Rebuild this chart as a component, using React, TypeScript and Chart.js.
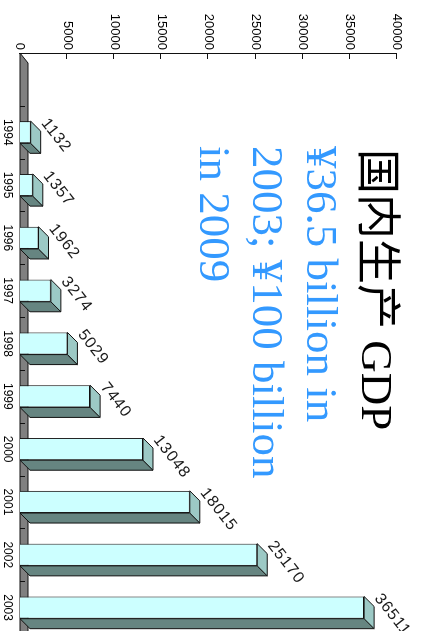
import React, { useEffect, useRef } from "react";
import { Chart, registerables } from "chart.js";

Chart.register(...registerables);

const categories = ["", "1994", "1995", "1996", "1997", "1998", "1999", "2000", "2001", "2002", "2003"];
const gdpValues = [null, 1132, 1357, 1962, 3274, 5029, 7440, 13048, 18015, 25170, 36511];
const axisMin = 0;
const axisMax = 40000;
const axisStep = 5000;
const titleText = "国内生产 GDP";
const subtitleLines = ["¥36.5 billion in", "2003; ¥100 billion", "in 2009"];

const DEPTH = 10;
const FRONT = "#ccffff";
const TOPFACE = "#9cc9c5";
const SIDEFACE = "#668581";
const FLOOR = "#808080";
const EDGE = "#111111";

const W = 640;
const H = 441;

const floorPlugin = {
  id: "floor3d",
  beforeDatasetsDraw(chart: any) {
    const { ctx, chartArea } = chart;
    const x = chart.scales.x;
    const base = chart.scales.y.getPixelForValue(0);
    const l = chartArea.left;
    const r = chartArea.right + 20;
    ctx.save();
    ctx.fillStyle = FLOOR;
    ctx.strokeStyle = EDGE;
    ctx.lineWidth = 1;
    ctx.beginPath();
    ctx.moveTo(l, base);
    ctx.lineTo(l + DEPTH, base - 8);
    ctx.lineTo(r + DEPTH, base - 8);
    ctx.lineTo(r, base);
    ctx.closePath();
    ctx.fill();
    ctx.stroke();
    const n = categories.length;
    const step = (chartArea.right - chartArea.left) / n;
    ctx.beginPath();
    for (let i = 1; i <= n; i++) {
      const px = Math.round(x.left + i * step) + 0.5;
      ctx.moveTo(px, base);
      ctx.lineTo(px, base - 5);
    }
    ctx.stroke();
    const y = chart.scales.y;
    ctx.beginPath();
    for (let v = axisMin + axisStep; v <= axisMax; v += axisStep) {
      const py = Math.round(y.getPixelForValue(v)) + 0.5;
      ctx.moveTo(chartArea.left, py);
      ctx.lineTo(chartArea.left + 6, py);
    }
    ctx.stroke();
    ctx.restore();
  },
};

const barPlugin = {
  id: "bars3d",
  afterDatasetsDraw(chart: any) {
    const { ctx } = chart;
    const meta = chart.getDatasetMeta(0);
    const d = DEPTH;
    ctx.save();
    ctx.lineWidth = 1;
    ctx.strokeStyle = EDGE;
    meta.data.forEach((bar: any, i: number) => {
      const v = gdpValues[i];
      if (v == null) return;
      const { x, y, base, width } = bar.getProps(["x", "y", "base", "width"], true);
      const xl = x - width / 2;
      const xr = x + width / 2;
      ctx.fillStyle = SIDEFACE;
      ctx.beginPath();
      ctx.moveTo(xr, y);
      ctx.lineTo(xr + d, y - d);
      ctx.lineTo(xr + d, base - d);
      ctx.lineTo(xr, base);
      ctx.closePath();
      ctx.fill();
      ctx.stroke();
      ctx.fillStyle = TOPFACE;
      ctx.beginPath();
      ctx.moveTo(xl, y);
      ctx.lineTo(xl + d, y - d);
      ctx.lineTo(xr + d, y - d);
      ctx.lineTo(xr, y);
      ctx.closePath();
      ctx.fill();
      ctx.stroke();
      ctx.save();
      ctx.translate(xl + 2, y - d);
      ctx.rotate((-38 * Math.PI) / 180);
      ctx.fillStyle = "#1a1a1a";
      ctx.font = '16px "Liberation Sans", Arial, sans-serif';
      (ctx as any).letterSpacing = "1px";
      ctx.textAlign = "left";
      ctx.textBaseline = "alphabetic";
      ctx.fillText(String(v), 0, 0);
      ctx.restore();
    });
    ctx.restore();
  },
};

const titlePlugin = {
  id: "titleText",
  afterDraw(chart: any) {
    const { ctx } = chart;
    ctx.save();
    ctx.textAlign = "left";
    ctx.textBaseline = "alphabetic";
    ctx.fillStyle = "#000000";
    ctx.font = '45px "Liberation Serif", "Noto Sans CJK SC", serif';
    ctx.fillText(titleText, 149, 79);
    ctx.fillStyle = "#3399ff";
    ctx.font = '45px "Liberation Serif", "Times New Roman", serif';
    subtitleLines.forEach((line, i) => {
      ctx.fillText(line, 146, 134 + i * 53.5);
    });
    ctx.restore();
  },
};

export default function App() {
  const ref = useRef<HTMLCanvasElement | null>(null);
  useEffect(() => {
    if (!ref.current) return;
    const chart = new Chart(ref.current, {
      type: "bar",
      data: {
        labels: categories,
        datasets: [
          {
            data: gdpValues as any,
            backgroundColor: FRONT,
            borderColor: EDGE,
            borderWidth: 1,
            barPercentage: 0.42,
            categoryPercentage: 1,
          },
        ],
      },
      options: {
        animation: false,
        responsive: false,
        devicePixelRatio: 1,
        layout: { padding: { top: 44, right: 6, left: 0, bottom: 0 } },
        plugins: { legend: { display: false }, tooltip: { enabled: false }, title: { display: false } },
        scales: {
          x: {
            grid: { display: false, drawTicks: false, tickLength: 0 },
            border: { display: false },
            ticks: {
              color: "#000",
              font: { family: '"Liberation Sans", Arial, sans-serif', size: 12 },
              padding: 5,
              maxRotation: 0,
              autoSkip: false,
            },
            afterFit: (s: any) => {
              s.height = 20;
            },
          },
          y: {
            min: axisMin,
            max: axisMax,
            grid: { display: false, drawTicks: false, tickLength: 0 },
            border: { display: true, color: EDGE, width: 1 },
            ticks: {
              stepSize: axisStep,
              color: "#000",
              font: { family: '"Liberation Sans", Arial, sans-serif', size: 13 },
              padding: 3,
              callback: (v: any) => String(v),
            },
            afterFit: (s: any) => {
              s.width = 53;
            },
          },
        },
      },
      plugins: [floorPlugin, barPlugin, titlePlugin],
    });
    return () => chart.destroy();
  }, []);

  return (
    <div style={{ position: "fixed", left: 0, top: 0, width: 441, height: 631, overflow: "hidden", background: "#fff" }}>
      <div
        style={{
          position: "absolute",
          left: 0,
          top: 0,
          width: W,
          height: H,
          transformOrigin: "0 0",
          transform: "translate(441px, 0) rotate(90deg)",
        }}
      >
        <canvas ref={ref} width={W} height={H} style={{ display: "block", width: W, height: H }} />
      </div>
    </div>
  );
}
